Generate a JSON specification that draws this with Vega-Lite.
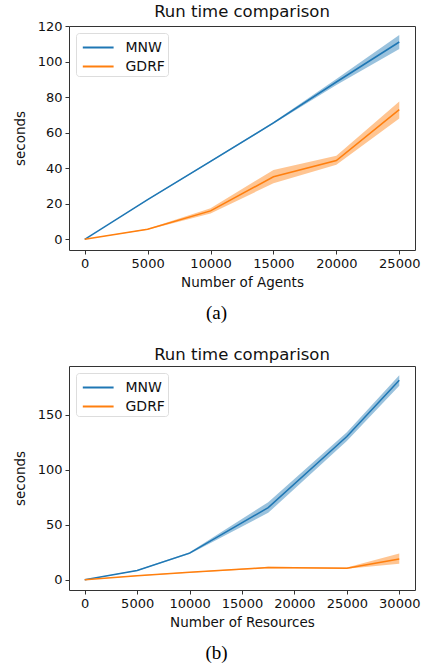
{
  "$schema": "https://vega.github.io/schema/vega-lite/v6.json",
  "background": "white",
  "padding": {"left": 12, "top": 3, "right": 5, "bottom": 0},
  "spacing": 23,
  "resolve": {"scale": {"color": "independent"}, "legend": {"color": "independent"}},
  "config": {
    "font": "DejaVu Sans",
    "view": {"stroke": "#333", "strokeWidth": 1},
    "axis": {
      "grid": false,
      "domain": false,
      "tickColor": "#333",
      "tickSize": 4,
      "labelFont": "DejaVu Sans",
      "labelFontSize": 13,
      "labelColor": "#111",
      "labelPadding": 3,
      "labelOverlap": false,
      "titleFont": "DejaVu Sans",
      "titleFontSize": 13.5,
      "titleFontWeight": "normal",
      "titleColor": "#111"
    },
    "legend": {
      "symbolType": "M-0.7,0H2.1",
      "symbolSize": 484,
      "symbolStrokeWidth": 2,
      "labelFont": "DejaVu Sans",
      "labelFontSize": 14,
      "labelColor": "#111",
      "labelOffset": 23,
      "rowPadding": 0,
      "padding": 2.5,
      "strokeColor": "#ddd",
      "fillColor": "white",
      "cornerRadius": 3
    }
  },
  "datasets": {
    "agents": [
      {"series": "MNW", "x": 0, "y": 0, "lo": 0, "hi": 0},
      {"series": "MNW", "x": 5000, "y": 22.3, "lo": 22.0, "hi": 22.6},
      {"series": "MNW", "x": 10000, "y": 43.8, "lo": 43.4, "hi": 44.2},
      {"series": "MNW", "x": 15000, "y": 65.5, "lo": 65.0, "hi": 66.0},
      {"series": "MNW", "x": 20000, "y": 88.5, "lo": 86.8, "hi": 90.2},
      {"series": "MNW", "x": 25000, "y": 111, "lo": 107, "hi": 115},
      {"series": "GDRF", "x": 0, "y": 0, "lo": 0, "hi": 0},
      {"series": "GDRF", "x": 5000, "y": 5.7, "lo": 5.4, "hi": 6.0},
      {"series": "GDRF", "x": 10000, "y": 16, "lo": 14.6, "hi": 17.5},
      {"series": "GDRF", "x": 15000, "y": 35.2, "lo": 31.5, "hi": 39},
      {"series": "GDRF", "x": 20000, "y": 44.3, "lo": 42, "hi": 47},
      {"series": "GDRF", "x": 25000, "y": 73, "lo": 68, "hi": 77.5}
    ],
    "resources": [
      {"series": "MNW", "x": 0, "y": 0, "lo": 0, "hi": 0},
      {"series": "MNW", "x": 5000, "y": 8.5, "lo": 8.0, "hi": 9.0},
      {"series": "MNW", "x": 10000, "y": 24.2, "lo": 23.5, "hi": 25},
      {"series": "MNW", "x": 17500, "y": 65.5, "lo": 60.8, "hi": 70.5},
      {"series": "MNW", "x": 25000, "y": 130, "lo": 126, "hi": 134},
      {"series": "MNW", "x": 30000, "y": 181, "lo": 176, "hi": 185.5},
      {"series": "GDRF", "x": 0, "y": 0, "lo": 0, "hi": 0},
      {"series": "GDRF", "x": 5000, "y": 3.8, "lo": 3.5, "hi": 4.1},
      {"series": "GDRF", "x": 10000, "y": 6.8, "lo": 6.4, "hi": 7.2},
      {"series": "GDRF", "x": 17500, "y": 11.2, "lo": 10.6, "hi": 11.8},
      {"series": "GDRF", "x": 25000, "y": 10.6, "lo": 10.0, "hi": 11.2},
      {"series": "GDRF", "x": 30000, "y": 19, "lo": 14.5, "hi": 24}
    ]
  },
  "vconcat": [
    {
      "title": {"text": "(a)", "orient": "bottom", "anchor": "middle", "font": "Liberation Serif", "fontSize": 19, "fontWeight": "normal", "color": "#000", "offset": 15},
      "resolve": {"scale": {"color": "independent"}, "legend": {"color": "independent"}},
      "vconcat": [
        {
          "title": {"text": "Run time comparison", "anchor": "middle", "font": "DejaVu Sans", "fontSize": 16.5, "fontWeight": "normal", "color": "#111", "offset": 0},
          "width": 346,
          "height": 224,
          "data": {"name": "agents"},
          "encoding": {
            "x": {"field": "x", "type": "quantitative", "title": "Number of Agents",
              "scale": {"domain": [-1250, 26250], "nice": false, "zero": false},
              "axis": {"values": [0, 5000, 10000, 15000, 20000, 25000], "format": "d", "titlePadding": 5}}
          },
          "layer": [
            {
              "mark": {"type": "area", "opacity": 0.45},
              "encoding": {
                "y": {"field": "lo", "type": "quantitative", "title": "seconds",
                  "scale": {"domain": [-6, 120], "nice": false, "zero": false},
                  "axis": {"values": [0, 20, 40, 60, 80, 100, 120], "format": "d", "titlePadding": 10}},
                "y2": {"field": "hi"},
                "fill": {"field": "series", "type": "nominal", "scale": {"domain": ["MNW", "GDRF"], "range": ["#1f77b4", "#ff7f0e"]}, "legend": null}
              }
            },
            {
              "mark": {"type": "line", "strokeWidth": 1.5},
              "encoding": {
                "y": {"field": "y", "type": "quantitative", "title": "seconds",
                  "scale": {"domain": [-6, 120], "nice": false, "zero": false},
                  "axis": {"values": [0, 20, 40, 60, 80, 100, 120], "format": "d", "titlePadding": 10}},
                "color": {"field": "series", "type": "nominal", "scale": {"domain": ["MNW", "GDRF"], "range": ["#1f77b4", "#ff7f0e"]},
                  "legend": {"title": null, "orient": "top-left", "offset": 7}}
              }
            }
          ]
        }
      ]
    },
    {
      "title": {"text": "(b)", "orient": "bottom", "anchor": "middle", "font": "Liberation Serif", "fontSize": 19, "fontWeight": "normal", "color": "#000", "offset": 15},
      "resolve": {"scale": {"color": "independent"}, "legend": {"color": "independent"}},
      "vconcat": [
        {
          "title": {"text": "Run time comparison", "anchor": "middle", "font": "DejaVu Sans", "fontSize": 16.5, "fontWeight": "normal", "color": "#111", "offset": 3},
          "width": 346,
          "height": 224,
          "data": {"name": "resources"},
          "encoding": {
            "x": {"field": "x", "type": "quantitative", "title": "Number of Resources",
              "scale": {"domain": [-1500, 31500], "nice": false, "zero": false},
              "axis": {"values": [0, 5000, 10000, 15000, 20000, 25000, 30000], "format": "d", "titlePadding": 5}}
          },
          "layer": [
            {
              "mark": {"type": "area", "opacity": 0.45},
              "encoding": {
                "y": {"field": "lo", "type": "quantitative", "title": "seconds",
                  "scale": {"domain": [-9.2, 194], "nice": false, "zero": false},
                  "axis": {"values": [0, 50, 100, 150], "format": "d", "titlePadding": 10}},
                "y2": {"field": "hi"},
                "fill": {"field": "series", "type": "nominal", "scale": {"domain": ["MNW", "GDRF"], "range": ["#1f77b4", "#ff7f0e"]}, "legend": null}
              }
            },
            {
              "mark": {"type": "line", "strokeWidth": 1.5},
              "encoding": {
                "y": {"field": "y", "type": "quantitative", "title": "seconds",
                  "scale": {"domain": [-9.2, 194], "nice": false, "zero": false},
                  "axis": {"values": [0, 50, 100, 150], "format": "d", "titlePadding": 10}},
                "color": {"field": "series", "type": "nominal", "scale": {"domain": ["MNW", "GDRF"], "range": ["#1f77b4", "#ff7f0e"]},
                  "legend": {"title": null, "orient": "top-left", "offset": 7}}
              }
            }
          ]
        }
      ]
    }
  ]
}
